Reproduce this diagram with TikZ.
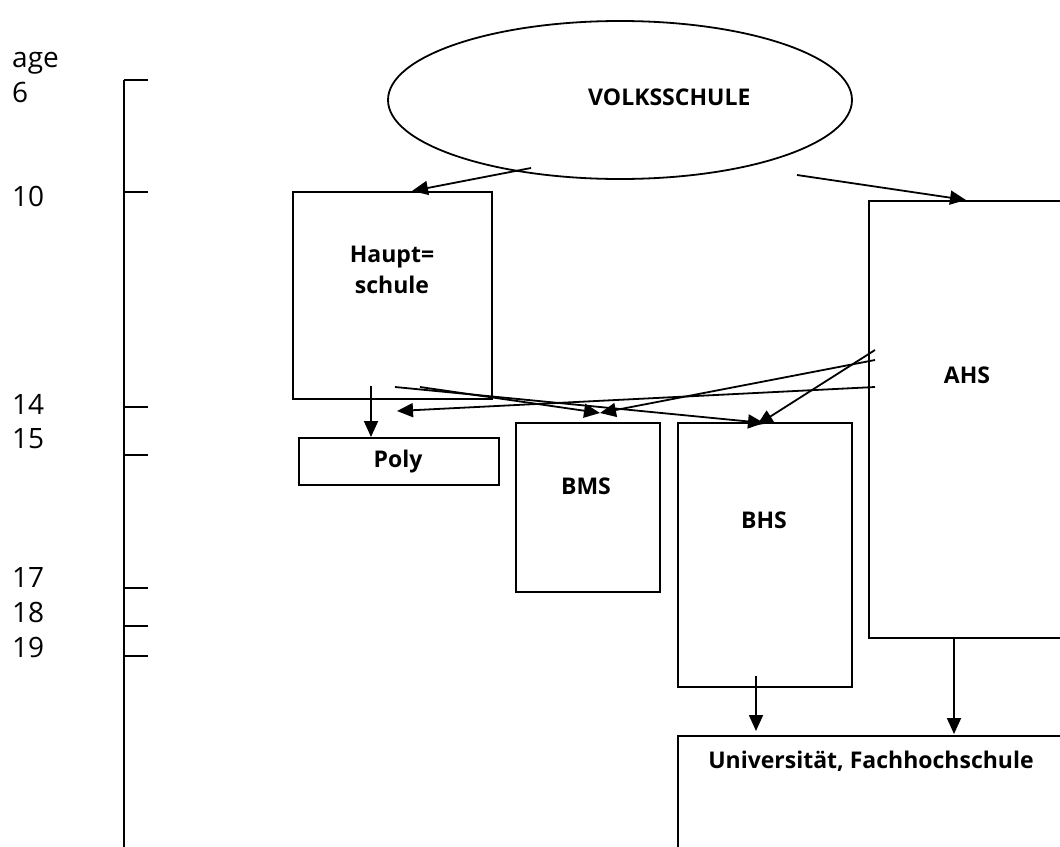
\documentclass[tikz,border=0pt]{standalone}
\usepackage{fontspec}
\setmainfont{Open Sans}
\usetikzlibrary{arrows.meta,shapes.geometric,calc}
\begin{document}
\begin{tikzpicture}[x=1pt,y=-1pt,
  box/.style={draw, line width=1.8pt, inner sep=0pt, anchor=north west},
  lbl/.style={font=\bfseries\fontsize{23}{31}\selectfont, inner sep=0pt, anchor=base},
  agelbl/.style={font=\fontsize{28}{30}\selectfont, anchor=base west, inner sep=0pt},
  arr/.style={line width=1.8pt, -{Triangle[length=16pt,width=14pt]}},
  axisline/.style={line width=1.8pt}]
\useasboundingbox (0,0) rectangle (1060,846);
\clip (0,0) rectangle (1060,846);

% age axis
\coordinate (axtop) at (124,80);
\coordinate (axbot) at (124,850);
\draw[axisline] (axtop) -- (axbot);
\foreach \y/\n in {80/t6,192/t10,407/t14,455/t15,588/t17,626/t18,656/t19}{
  \coordinate (\n) at (124,\y);
  \draw[axisline] (\n) -- ++(24,0);
}
\node[agelbl] (lage) at (12,67) {age};
\node[agelbl] (l6) at (12,102) {6};
\node[agelbl] (l10) at (12,206) {10};
\node[agelbl] (l14) at (12,414) {14};
\node[agelbl] (l15) at (12,448) {15};
\node[agelbl] (l17) at (12,587) {17};
\node[agelbl] (l18) at (12,622) {18};
\node[agelbl] (l19) at (12,657) {19};

% boxes
\node[draw, ellipse, line width=1.8pt, minimum width=464pt, minimum height=158pt] (volks) at (620,100) {};
\node[lbl, anchor=base west] (volksl) at (588,105) {VOLKSSCHULE};
\node[box, minimum width=199pt, minimum height=207pt] (haupt) at (292,191) {};
\node[lbl] (hauptl1) at (392,262) {Haupt=};
\node[lbl] (hauptl2) at (392,293) {schule};
\node[box, minimum width=200pt, minimum height=47pt] (poly) at (298,437) {};
\node[lbl] (polyl) at (398,467) {Poly};
\node[box, minimum width=144pt, minimum height=169pt] (bms) at (515,422) {};
\node[lbl] (bmsl) at (586,494) {BMS};
\node[box, minimum width=174pt, minimum height=264pt] (bhs) at (677,422) {};
\node[lbl] (bhsl) at (764,528) {BHS};
\node[box, minimum width=210pt, minimum height=437pt] (ahs) at (868,200) {};
\node[lbl] (ahsl) at (967,383) {AHS};
\node[box, minimum width=420pt, minimum height=140pt] (uni) at (677,735) {};
\node[lbl] (unil) at (871,768) {Universität, Fachhochschule};

% connector endpoints
\coordinate (v1) at (531,168);
\coordinate (v2) at (797,175);
\coordinate (h1) at (371,386);
\coordinate (h2) at (395,387);
\coordinate (h3) at (420,387);
\coordinate (a1) at (875,350);
\coordinate (a2) at (875,360);
\coordinate (a3) at (875,387);
\coordinate (b1) at (756,676);
\coordinate (a4) at (954,637);
\coordinate (hauptin) at ($(haupt.north west)+(120,0)$);
\coordinate (ahsin) at ($(ahs.north west)+(98,0)$);
\coordinate (polyin) at ($(poly.north west)+(73,0)$);
\coordinate (bhsin1) at (764,423);
\coordinate (bhsin2) at (757,425);
\coordinate (bmsin) at (600,413);
\coordinate (hleft) at (397,411);
\coordinate (unin1) at (756,731);
\coordinate (unin2) at (954,734);

\draw[arr] (v1) -- (hauptin);
\draw[arr] (v2) -- (ahsin);
\draw[arr] (h1) -- (polyin);
\draw[arr] (h2) -- (bhsin1);
\draw[arr] (h3) -- (bmsin);
\draw[arr] (a2) -- (bmsin);
\draw[arr] (a3) -- (hleft);
\draw[arr] (a1) -- (bhsin2);
\draw[arr] (b1) -- (unin1);
\draw[arr] (a4) -- (unin2);
\end{tikzpicture}
\end{document}
